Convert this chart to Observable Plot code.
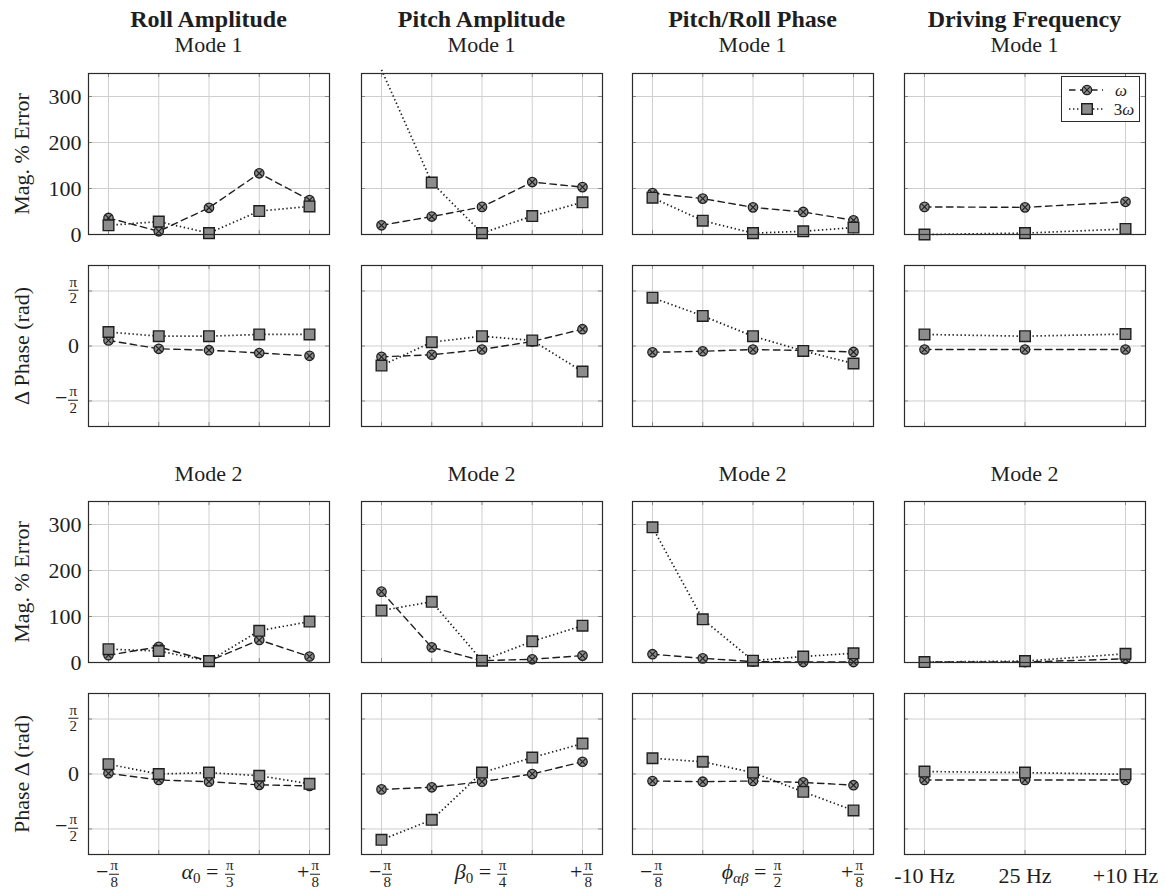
<!DOCTYPE html>
<html><head><meta charset="utf-8">
<script src="https://cdn.jsdelivr.net/npm/d3@7"></script>
<script src="https://cdn.jsdelivr.net/npm/@observablehq/plot@0.6"></script>
<style>
html,body{margin:0;padding:0;background:#fff;}
#chart{position:relative;width:1166px;height:890px;font-family:"Liberation Serif","DejaVu Serif",serif;color:#1e1e1e;overflow:hidden;background:#fff;}
#chart svg.panel{position:absolute;overflow:visible;}
.t{position:absolute;white-space:nowrap;line-height:1;font-size:22px;}
.c{transform:translate(-50%,-50%);}
.r{transform:translate(-100%,-50%);}
.rot{transform:translate(-50%,-50%) rotate(-90deg);}
.b{font-weight:bold;font-size:24px;}
.frac{display:inline-block;vertical-align:middle;text-align:center;font-size:15px;line-height:1.05;margin:0 1px;}
.frac span{display:block;padding:0 1px;}
.frac .den{border-top:1px solid #1e1e1e;}
.sub{font-size:15px;position:relative;top:4px;}
#legend{position:absolute;left:1061px;top:76px;width:79px;height:46px;box-sizing:border-box;border:1px solid #2b2b2b;background:#fff;}
#legend .lt{position:absolute;font-size:17px;line-height:1;transform:translate(-50%,-50%);white-space:nowrap;}
#legend svg{position:absolute;}
</style></head><body><div id="chart"></div><script>
// ---------------- data ----------------
const columnTitles = ["Roll Amplitude", "Pitch Amplitude", "Pitch/Roll Phase", "Driving Frequency"];
const modeTitles = ["Mode 1", "Mode 2"];
const rowTitles = ["Mag. % Error", "Δ Phase (rad)", "Mag. % Error", "Phase Δ (rad)"];
const seriesNames = ["ω", "3ω"];
const sweepSteps = [0, 1, 2, 3, 4];
const freqSteps = [0, 1, 2];
const freqLabels = ["-10 Hz", "25 Hz", "+10 Hz"];
// [variable, subscript, denominator of π in the nominal value]
const sweepVars = [["α", "0", "3"], ["β", "0", "4"], ["ϕ", "αβ", "2"]];
const sweepDenom = "8";
const magTicks = [0, 100, 200, 300];
const phaseTicks = [-Math.PI / 2, 0, Math.PI / 2];

// Mode 1 – magnitude % error (one list per column)
const mode1MagW  = [[36, 7, 58, 133, 75], [20, 39, 60, 114, 103], [90, 78, 59, 49, 31], [60, 59, 71]];
const mode1Mag3W = [[20, 28, 3, 51, 61], [358, 113, 3, 40, 70], [80, 30, 3, 7, 15], [0, 3, 12]];
// Mode 1 – phase difference (rad)
const mode1PhaseW  = [[0.16, -0.08, -0.12, -0.20, -0.28], [-0.31, -0.25, -0.10, 0.13, 0.48], [-0.18, -0.15, -0.10, -0.13, -0.17], [-0.10, -0.10, -0.10]];
const mode1Phase3W = [[0.40, 0.28, 0.28, 0.33, 0.33], [-0.56, 0.11, 0.28, 0.16, -0.73], [1.38, 0.86, 0.28, -0.14, -0.50], [0.33, 0.28, 0.34]];
// Mode 2 – magnitude % error
const mode2MagW  = [[16, 34, 3, 49, 13], [154, 33, 4, 7, 15], [18, 9, 2, 1, 1], [1, 1, 8]];
const mode2Mag3W = [[29, 25, 3, 69, 89], [113, 132, 4, 46, 80], [294, 94, 4, 13, 20], [1, 3, 19]];
// Mode 2 – phase difference (rad)
const mode2PhaseW  = [[0.02, -0.17, -0.22, -0.31, -0.34], [-0.44, -0.38, -0.22, 0.00, 0.35], [-0.20, -0.22, -0.20, -0.24, -0.32], [-0.17, -0.17, -0.17]];
const mode2Phase3W = [[0.28, 0.00, 0.04, -0.05, -0.28], [-1.88, -1.31, 0.04, 0.47, 0.87], [0.45, 0.35, 0.04, -0.51, -1.04], [0.07, 0.04, -0.01]];

// ---------------- layout / style ----------------
const W = 241, H = 161;
const colLeft = [88, 361, 632, 904];
const rowTop = [73, 265, 501, 693];
const GRID = "#cfcfcf", TICK = "#8a8a8a", INK = "#1e1e1e", FILL = "#8c8c8c", FRAME = "#2b2b2b";
const MAG_DOMAIN = [0, 350], PHASE_DOMAIN = [-2.3, 2.3];
const DASH = "6.5,4.5", DOT = "1.4,2.6";

const rows = [
  {kind: "mag", w: mode1MagW, w3: mode1Mag3W},
  {kind: "phase", w: mode1PhaseW, w3: mode1Phase3W},
  {kind: "mag", w: mode2MagW, w3: mode2Mag3W},
  {kind: "phase", w: mode2PhaseW, w3: mode2Phase3W}
];

const chart = document.getElementById("chart");
const frac = (n, d) => `<span class="frac"><span>${n}</span><span class="den">${d}</span></span>`;
function addText(html, x, y, cls) {
  const el = document.createElement("div");
  el.className = "t " + cls;
  el.innerHTML = html;
  el.style.left = x + "px";
  el.style.top = y + "px";
  chart.appendChild(el);
  return el;
}

function panel(r, c) {
  const row = rows[r];
  const steps = c === 3 ? freqSteps : sweepSteps;
  const isMag = row.kind === "mag";
  const yDomain = isMag ? MAG_DOMAIN : PHASE_DOMAIN;
  const yTicks = isMag ? magTicks : phaseTicks;
  const ml = c === 0 ? 88 : 0, mb = r === 3 ? 40 : 0;
  const dataW = steps.map((s, i) => ({x: s, y: row.w[c][i]}));
  const data3 = steps.map((s, i) => ({x: s, y: row.w3[c][i]}));
  const vis = d => d.y <= yDomain[1] && d.y >= yDomain[0];
  const marks = [
    Plot.gridX(steps, {stroke: GRID, strokeOpacity: 1, strokeWidth: 1}),
    Plot.gridY(yTicks, {stroke: GRID, strokeOpacity: 1, strokeWidth: 1}),
    Plot.gridX(steps, {stroke: TICK, strokeOpacity: 1, insetBottom: H - 4}),
    Plot.gridX(steps, {stroke: TICK, strokeOpacity: 1, insetTop: H - 4}),
    Plot.gridY(yTicks, {stroke: TICK, strokeOpacity: 1, insetRight: W - 4}),
    Plot.gridY(yTicks, {stroke: TICK, strokeOpacity: 1, insetLeft: W - 4}),
    Plot.line(dataW, {x: "x", y: "y", stroke: INK, strokeWidth: 1.4, strokeDasharray: DASH}),
    Plot.dot(dataW.filter(vis), {x: "x", y: "y", r: 4.7, fill: FILL, stroke: INK, strokeWidth: 1.3}),
    Plot.dot(dataW.filter(vis), {x: "x", y: "y", symbol: "times", r: 3, fill: "none", stroke: INK, strokeWidth: 1.1}),
    Plot.line(data3, {x: "x", y: "y", stroke: INK, strokeWidth: 1.7, strokeDasharray: DOT, strokeLinecap: "butt"}),
    Plot.dot(data3.filter(vis), {x: "x", y: "y", symbol: "square", r: 6, fill: FILL, stroke: INK, strokeWidth: 1.4}),
    Plot.frame({stroke: FRAME, strokeWidth: 1.2})
  ];
  if (c === 0 && isMag) marks.push(Plot.axisY(magTicks, {tickSize: 0, tickPadding: 7, label: null}));
  if (c === 3 && r === 3) marks.push(Plot.axisX(freqSteps, {tickSize: 0, tickPadding: 13, tickFormat: i => freqLabels[i], label: null}));
  const svg = Plot.plot({
    width: ml + W, height: H + mb,
    marginLeft: ml, marginRight: 0, marginTop: 0, marginBottom: mb,
    x: {domain: [steps[0], steps[steps.length - 1]], insetLeft: 20, insetRight: 20, axis: null},
    y: {domain: yDomain, axis: null},
    style: {fontFamily: '"Liberation Serif", serif', fontSize: "22px", color: INK, background: "transparent", overflow: "visible"},
    marks
  });
  svg.classList.add("panel");
  const left = colLeft[c] - ml, top = rowTop[r];
  svg.style.left = left + "px";
  svg.style.top = top + "px";
  chart.appendChild(svg);

  const sx = svg.scale("x"), sy = svg.scale("y");
  // phase tick labels (fractions of π)
  if (c === 0 && !isMag) {
    const phaseLabels = [`−${frac("π", "2")}`, "0", frac("π", "2")];
    phaseTicks.forEach((v, i) => addText(phaseLabels[i], left + ml - 9, top + sy.apply(v), "r"));
  }
  // sweep labels on the bottom row
  if (r === 3 && c < 3) {
    const [v, sub, den] = sweepVars[c];
    const subHtml = /[α-ω]/.test(sub) ? `<i>${sub}</i>` : sub;
    const labels = [
      [0, `−${frac("π", sweepDenom)}`],
      [2, `<i>${v}</i><span class="sub">${subHtml}</span> = ${frac("π", den)}`],
      [4, `+${frac("π", sweepDenom)}`]
    ];
    labels.forEach(([s, html]) => addText(html, left + sx.apply(s), top + H + 20, "c"));
  }
}

for (let r = 0; r < 4; r++) for (let c = 0; c < 4; c++) panel(r, c);

// titles
columnTitles.forEach((t, c) => addText(t, colLeft[c] + W / 2, 19, "c b"));
modeTitles.forEach((t, m) => columnTitles.forEach((_, c) => addText(t, colLeft[c] + W / 2, m === 0 ? 45 : 474, "c")));
rowTitles.forEach((t, r) => addText(t, 22, rowTop[r] + H / 2, "rot"));

// legend
const legend = document.createElement("div");
legend.id = "legend";
const sampleW = `<svg width="36" height="16" style="left:6px;top:5px">
  <line x1="1" x2="35" y1="8" y2="8" stroke="${INK}" stroke-width="1.4" stroke-dasharray="${DASH}"/>
  <circle cx="19" cy="8" r="4.7" fill="${FILL}" stroke="${INK}" stroke-width="1.3"/>
  <path d="M16.2,5.2L21.8,10.8M21.8,5.2L16.2,10.8" stroke="${INK}" stroke-width="1.1"/></svg>`;
const sample3W = `<svg width="36" height="16" style="left:6px;top:24px">
  <line x1="1" x2="35" y1="8" y2="8" stroke="${INK}" stroke-width="1.7" stroke-dasharray="${DOT}"/>
  <rect x="13.7" y="2.7" width="10.6" height="10.6" fill="${FILL}" stroke="${INK}" stroke-width="1.4"/></svg>`;
legend.innerHTML = sampleW + sample3W +
  `<div class="lt" style="left:59px;top:13px"><i>${seriesNames[0]}</i></div>` +
  `<div class="lt" style="left:62px;top:32px">3<i>ω</i></div>`;
chart.appendChild(legend);
</script></body></html>
